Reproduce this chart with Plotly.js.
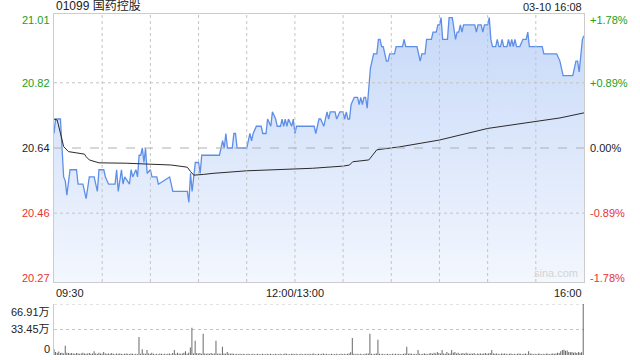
<!DOCTYPE html>
<html>
<head>
<meta charset="utf-8">
<script src="https://cdn.plot.ly/plotly-3.0.1.min.js"></script>
<style>html,body{margin:0;padding:0;background:#fff;}#chart{width:640px;height:360px;}</style>
</head>
<body>
<div id="chart"></div>
<script>
// ---- data ----
const stockTitle = '01099 国药控股';
const stampText = '03-10 16:08';
const prevClose = 20.64;

// price series: minute offset from 09:30 (trading minutes) and price
const priceMinutes = [0,1,4,6,7,8,10,14,15,18,20,22,25,27,28,31,32,34,38,39,40,42,43,44,47,48,49,51,52,53,54,55,56,57,58,60,61,64,65,72,74,83,84,85,86,88,90,91,92,
103,104,105,106,107,108,111,112,113,114,120,121,122,123,124,126,129,130,132,133,135,136,138,139,141,142,143,144,145,146,148,149,150,151,
162,163,165,166,168,170,171,172,175,176,178,180,181,182,183,184,185,187,189,190,191,192,193,194,195,197,199,201,202,203,204,205,207,208,209,212,213,217,218,219,
226,228,229,231,232,235,236,238,239,240,241,242,245,246,248,250,251,252,253,254,255,262,263,264,266,267,268,270,271,272,273,275,276,277,278,279,280,282,283,284,285,286,287,288,290,292,294,295,296,
304,305,313,315,317,323,325,326,327,329,330];
const priceValues = [20.68,20.72,20.72,20.56,20.55,20.51,20.58,20.58,20.54,20.54,20.50,20.56,20.56,20.52,20.58,20.58,20.56,20.54,20.54,20.58,20.52,20.58,20.54,20.56,20.54,20.58,20.56,20.58,20.56,20.62,20.62,20.64,20.60,20.64,20.57,20.58,20.56,20.56,20.54,20.56,20.52,20.52,20.49,20.57,20.52,20.60,20.60,20.57,20.62,
20.62,20.64,20.66,20.64,20.68,20.64,20.64,20.68,20.68,20.64,20.64,20.66,20.68,20.66,20.68,20.70,20.70,20.68,20.68,20.72,20.70,20.74,20.72,20.70,20.70,20.72,20.70,20.72,20.70,20.72,20.70,20.72,20.68,20.70,
20.70,20.68,20.72,20.72,20.70,20.74,20.72,20.74,20.74,20.72,20.74,20.74,20.72,20.74,20.72,20.72,20.76,20.78,20.78,20.76,20.78,20.76,20.78,20.78,20.75,20.86,20.90,20.90,20.94,20.94,20.92,20.92,20.88,20.88,20.90,20.90,20.92,20.92,20.94,20.92,
20.92,20.88,20.90,20.90,20.94,20.94,20.96,20.96,20.98,20.98,21.00,20.94,20.94,21.00,21.00,20.94,20.96,20.96,20.98,20.96,20.98,20.98,20.96,20.98,20.98,20.96,20.98,20.98,21.00,20.94,20.92,20.92,20.94,20.92,20.92,20.94,20.92,20.92,20.94,20.92,20.94,20.92,20.94,20.92,20.92,20.94,20.94,20.96,20.92,
20.92,20.90,20.90,20.88,20.84,20.84,20.88,20.88,20.85,20.94,20.95];

// average price line
const avgMinutes = [0,2,4,6,9,19,20,22,28,45,73,83,85,87,93,99,120,141,161,180,184,186,196,198,201,215,240,270,296,315,330];
const avgValues = [20.72,20.717,20.681,20.644,20.630,20.623,20.616,20.607,20.599,20.598,20.593,20.587,20.575,20.565,20.567,20.570,20.577,20.581,20.584,20.590,20.593,20.602,20.607,20.618,20.635,20.643,20.662,20.694,20.710,20.723,20.737];

// volume per minute (万股)
const volumes = [
7.5,4,3,4.5,2.5,3,2,12,3,2.5,
2,2.5,2,1.5,2.5,2,1.5,2,3,2,
1.5,2,2.5,1.5,2,5,2,1.5,3,2,
1.5,4,2,1.5,2,1.5,2.5,1.5,1,2,
1.5,2,1.5,1,1.5,2,1.5,1,2,1.5,
1,1.5,1,23.7,1.5,7.6,2,1.5,6.7,2,
1.5,3,1.5,1,1.5,1,2,1.5,1,1.5,
1,1.5,2,1,2.5,6.7,1.5,3,2,1.5,
2,3,5,1.5,3,10,35.7,2,18.7,2.5,
2,2.5,1.5,28,2,1.5,2,1.5,2.5,1.5,
2,18.7,1.5,2,1.5,10.7,2,1.5,4,2,
1.5,2,1.5,1,1.5,1,1.5,1,1.5,1,
1,1.5,1,1,1.5,1,1,1.5,1,1,
1.5,1,1,1.5,1,1.5,1,1,1.5,1,
1,1.5,1,1,2,1.5,1,1,1.5,1.5,
1,1.5,1,1,1.5,1,1,1.5,1,1.5,
1,1.5,2,1,1,1.5,1,1.5,2,1,
1.5,1,1,1.5,1,1,1.5,1,1,1.5,
1,1.5,1,1.5,2,3.5,22.3,1.5,1,1.5,
1,1.5,1,1,1.5,2,2,28,1.5,1,
1.5,2,20,1.5,1,1.5,1,1,1.5,1,
1,1.5,1,1.5,1,1.5,1,1,1.5,2,
10.7,1.5,2,1.5,1,1.5,1,6.7,1.5,1,
1.5,2,1.5,1,2,2.5,1.5,3,2,4,
2.5,2,6.7,2,1.5,4,2,2,6.7,3,
4,2,3,1.5,2,2.5,1.5,3,2,1.5,
2,1.5,2.5,1,2,1.5,2,1.5,2,2.5,
1.5,2,2.5,6.7,2,1.5,2,1.5,1,2,
1.5,2,1.5,1,1.5,2,1,1.5,1,1.5,
2,1.5,1,1.5,2,1,5,2,1.5,1,
1.5,1,2,1.5,1,1.5,1,2,1.5,1,
1.5,2,1.5,2,3,2.5,5,6.5,7,5.5,
6,4,3.5,4,3,3.5,2.5,4,3,3.5,
66.91];

// axis labels
const priceTicks = [21.01, 20.82, 20.64, 20.46, 20.27];
const pctTicks = ['+1.78%', '+0.89%', '0.00%', '-0.89%', '-1.78%'];
const timeTickVals = [0, 150, 330];
const timeTickText = ['09:30', '12:00/13:00', '16:00'];
const volTicks = [66.91, 33.45, 0];
const volTickText = ['66.91万', '33.45万', '0'];
const gridStepMinutes = 30;
const sessionMinutes = 330;

// ---- styling ----
const FONT = 'Liberation Sans, Arial, "Noto Sans CJK SC", sans-serif';
const GREEN = '#22a022';
const RED = '#e83333';
const DARK = '#222222';
const GRID = '#c4c4c4';
const mainBottom = 0.2141;
const volTop = 0.1496;

function colorFor(v) {
  if (Math.abs(v - prevClose) < 1e-9) return DARK;
  return v > prevClose ? GREEN : RED;
}

const volMinutes = volumes.map((_, i) => i);

const traces = [
  {
    x: priceMinutes, y: priceValues, type: 'scatter', mode: 'lines',
    line: {color: '#5d8fe8', width: 1.3},
    fill: 'tozeroy',
    fillgradient: {type: 'vertical', start: priceTicks[4], stop: priceTicks[0],
      colorscale: [[0, 'rgb(243,247,254)'], [1, 'rgb(198,216,248)']]},
    xaxis: 'x', yaxis: 'y', hoverinfo: 'skip'
  },
  {
    x: avgMinutes, y: avgValues, type: 'scatter', mode: 'lines',
    line: {color: '#2a2a2a', width: 1},
    xaxis: 'x', yaxis: 'y', hoverinfo: 'skip'
  },
  {
    x: volMinutes, y: volumes, type: 'bar',
    marker: {color: '#555555', line: {width: 0}},
    xaxis: 'x2', yaxis: 'y2', hoverinfo: 'skip'
  }
];

// grid lines drawn above the area fill
const shapes = [];
for (let m = gridStepMinutes; m < sessionMinutes; m += gridStepMinutes) {
  shapes.push({type: 'line', xref: 'x', x0: m, x1: m, yref: 'paper', y0: mainBottom, y1: 1,
    line: {color: GRID, width: 1, dash: 'dot'}, layer: 'above'});
}
[priceTicks[1], priceTicks[3]].forEach(v => {
  shapes.push({type: 'line', xref: 'paper', x0: 0, x1: 1, yref: 'y', y0: v, y1: v,
    line: {color: GRID, width: 1, dash: 'dot'}, layer: 'above'});
});
shapes.push({type: 'line', xref: 'paper', x0: 0, x1: 1, yref: 'y', y0: prevClose, y1: prevClose,
  line: {color: '#b0b0b0', width: 1, dash: 'dash'}, layer: 'above'});
[volTicks[0], volTicks[1]].forEach(v => {
  shapes.push({type: 'line', xref: 'paper', x0: 0, x1: 1, yref: 'y2', y0: v, y1: v,
    line: {color: GRID, width: 1, dash: 'dot'}, layer: 'below'});
});

const annotations = [];
priceTicks.forEach((v, i) => {
  const ys = i === 0 ? -6 : (i === priceTicks.length - 1 ? 4 : 0);
  annotations.push({xref: 'paper', x: 0, xanchor: 'right', xshift: -2, yref: 'y', y: v, yanchor: 'middle', yshift: ys,
    text: v.toFixed(2), showarrow: false, font: {family: FONT, size: 11, color: colorFor(v)}});
  annotations.push({xref: 'paper', x: 1, xanchor: 'left', xshift: 4, yref: 'y', y: v, yanchor: 'middle', yshift: ys,
    text: pctTicks[i], showarrow: false, font: {family: FONT, size: 11, color: colorFor(v)}});
});
timeTickVals.forEach((v, i) => {
  const anchor = i === 0 ? 'left' : (i === timeTickVals.length - 1 ? 'right' : 'center');
  annotations.push({xref: 'x', x: v, xanchor: anchor, yref: 'paper', y: mainBottom, yanchor: 'top', yshift: -3,
    text: timeTickText[i], showarrow: false, font: {family: FONT, size: 11, color: DARK}});
});
volTicks.forEach((v, i) => {
  const ys = i === 0 ? -8 : (i === volTicks.length - 1 ? 6 : 0);
  annotations.push({xref: 'paper', x: 0, xanchor: 'right', xshift: -2, yref: 'y2', y: v, yanchor: 'middle', yshift: ys,
    text: volTickText[i], showarrow: false, font: {family: FONT, size: 11, color: DARK}});
});
annotations.push({xref: 'paper', x: 0, xanchor: 'left', yref: 'paper', y: 1, yanchor: 'bottom', yshift: -1,
  text: stockTitle, showarrow: false, font: {family: FONT, size: 12, color: DARK}});
annotations.push({xref: 'paper', x: 1, xanchor: 'right', yref: 'paper', y: 1, yanchor: 'bottom', yshift: -1,
  text: stampText, showarrow: false, font: {family: FONT, size: 11, color: DARK}});
annotations.push({xref: 'paper', x: 1, xanchor: 'right', xshift: -4, yref: 'y', y: priceTicks[4], yanchor: 'bottom', yshift: 1,
  text: 'sina.com', showarrow: false, font: {family: FONT, size: 11, color: '#d4d4d4'}});

const layout = {
  width: 640, height: 360,
  margin: {l: 54, r: 56, t: 14, b: 5},
  paper_bgcolor: '#ffffff', plot_bgcolor: '#ffffff',
  showlegend: false,
  bargap: 0.45,
  xaxis: {domain: [0, 1], anchor: 'y', range: [0, sessionMinutes], showticklabels: false, ticks: '',
    showgrid: false, zeroline: false, showline: true, mirror: true, linecolor: '#cccccc', linewidth: 1},
  yaxis: {domain: [mainBottom, 1], anchor: 'x', range: [priceTicks[4], priceTicks[0]],
    showticklabels: false, ticks: '', showgrid: false,
    zeroline: false, showline: true, mirror: true, linecolor: '#cccccc', linewidth: 1},
  xaxis2: {domain: [0, 1], anchor: 'y2', range: [0, sessionMinutes + 0.5], showticklabels: false, ticks: '',
    showgrid: false, zeroline: false, showline: false},
  yaxis2: {domain: [0, volTop], anchor: 'x2', range: [0, volTicks[0]], showticklabels: false, ticks: '',
    showgrid: false, zeroline: false, showline: true, linecolor: '#cccccc', linewidth: 1},
  shapes: shapes,
  annotations: annotations
};

Plotly.newPlot('chart', traces, layout, {staticPlot: true, displayModeBar: false});
</script>
</body>
</html>
